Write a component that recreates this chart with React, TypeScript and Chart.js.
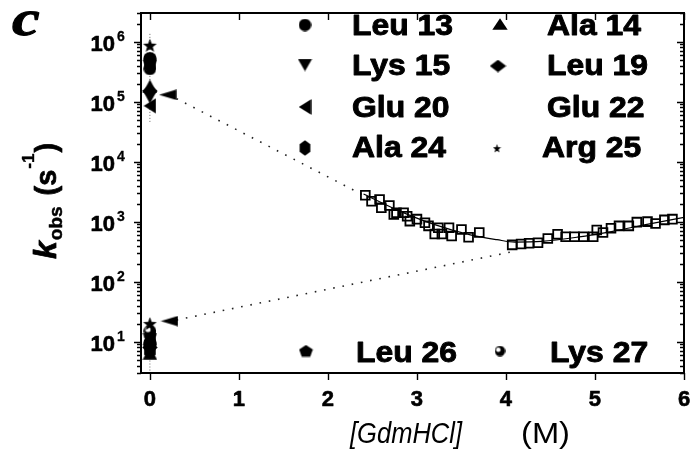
import React, { useEffect, useRef } from "react";
import { Chart, registerables } from "chart.js";

Chart.register(...registerables);

// ---------------- data ----------------
const residues = ["Leu 13", "Ala 14", "Lys 15", "Leu 19", "Glu 20", "Glu 22", "Ala 24", "Arg 25", "Leu 26", "Lys 27"];
const markerKinds = ["circle", "triangle", "down", "diamond", "left", "none", "hexagon", "star", "pentagon", "half"];
// rates at 0 M GdmHCl (s^-1)
const fastRates = [5.2e5, 1.8e5, 1.2e5, 1.5e5, 8.5e4, null, 4.0e5, 8.7e5, 4.6e5, 3.5e5];
const slowRates = [9.5, 6.5, 10.5, 8, 12, null, 7, 20, 8.5, 15];
const fastErr = [4.6e4, 1.4e6];
const slowErr = [3.3, 26];

// open squares (relaxation rate vs [GdmHCl])
const gdmUpper = [2.42, 2.49, 2.58, 2.6, 2.69, 2.74, 2.77, 2.85, 2.89, 2.92, 3.0, 3.09, 3.13, 3.2, 3.24, 3.28, 3.36, 3.39, 3.5, 3.58, 3.7];
const kUpper = [2750, 2190, 2340, 1700, 1860, 1320, 1410, 1410, 1230, 1020, 1100, 955, 850, 620, 790, 620, 790, 575, 740, 550, 660];
const gdmLower = [4.07, 4.17, 4.26, 4.36, 4.47, 4.58, 4.67, 4.77, 4.87, 4.98, 5.02, 5.09, 5.18, 5.27, 5.38, 5.47, 5.59, 5.68, 5.78, 5.87];
const kLower = [410, 425, 435, 445, 525, 615, 560, 560, 560, 560, 725, 660, 775, 850, 850, 980, 1000, 930, 1070, 1100];

// solid fit curve
const fitGdm = [2.4, 2.8, 3.2, 3.6, 3.9, 4.1, 4.4, 4.8, 5.2, 5.6, 6.0];
const fitK = [2880, 1510, 890, 600, 500, 457, 468, 550, 690, 910, 1175];

// dotted extrapolations and their arrowheads
const upperExtrapX = [0.3, 2.4];
const upperExtrapK = [1.12e5, 2750];
const lowerExtrapX = [0.3, 4.05];
const lowerExtrapK = [23, 310];
const arrowX = [0.2, 0.22];
const arrowK = [1.3e5, 22];

// axes
const xTicks = [0, 1, 2, 3, 4, 5, 6];
const yDecadeExp = [1, 2, 3, 4, 5, 6];
const yMinorMult = [2, 3, 4, 5, 6, 7, 8, 9];
const yRange = [3, 3e6];
const xRange = [-0.1, 6];

const SANS = '"Liberation Sans", Arial, sans-serif';

function makeMarker(kind: string, w: number, h: number): HTMLCanvasElement {
  const c = document.createElement("canvas");
  c.width = w;
  c.height = h;
  const g = c.getContext("2d")!;
  g.fillStyle = "#000";
  const cx = w / 2;
  const cy = h / 2;
  const rx = w / 2 - 0.3;
  const ry = h / 2 - 0.3;
  g.beginPath();
  if (kind === "circle" || kind === "half") {
    g.ellipse(cx, cy, rx, ry, 0, 0, Math.PI * 2);
  } else if (kind === "triangle") {
    g.moveTo(cx, 0.3);
    g.lineTo(w - 0.3, h - 0.3);
    g.lineTo(0.3, h - 0.3);
  } else if (kind === "down") {
    g.moveTo(0.3, 0.3);
    g.lineTo(w - 0.3, 0.3);
    g.lineTo(cx, h - 0.3);
  } else if (kind === "left" || kind === "arrow") {
    g.moveTo(0.3, cy);
    g.lineTo(w - 0.3, 0.3);
    g.lineTo(w - 0.3, h - 0.3);
  } else if (kind === "diamond") {
    g.moveTo(cx, 0.3);
    g.lineTo(w - 0.3, cy);
    g.lineTo(cx, h - 0.3);
    g.lineTo(0.3, cy);
  } else if (kind === "hexagon") {
    for (let i = 0; i < 6; i++) {
      const a = -Math.PI / 2 + (i * Math.PI) / 3;
      const px = cx + rx * Math.cos(a);
      const py = cy + ry * Math.sin(a);
      if (i === 0) g.moveTo(px, py);
      else g.lineTo(px, py);
    }
  } else if (kind === "pentagon") {
    for (let i = 0; i < 5; i++) {
      const a = -Math.PI / 2 + (i * 2 * Math.PI) / 5;
      const px = cx + rx * Math.cos(a);
      const py = cy + 0.5 + ry * Math.sin(a) * 1.05;
      if (i === 0) g.moveTo(px, py);
      else g.lineTo(px, py);
    }
  } else if (kind === "star") {
    for (let i = 0; i < 10; i++) {
      const a = -Math.PI / 2 + (i * Math.PI) / 5;
      const f = i % 2 === 0 ? 1 : 0.42;
      const px = cx + rx * f * Math.cos(a);
      const py = cy + 0.8 + ry * f * Math.sin(a);
      if (i === 0) g.moveTo(px, py);
      else g.lineTo(px, py);
    }
  }
  g.closePath();
  g.fill();
  if (kind === "half") {
    g.fillStyle = "#fff";
    g.beginPath();
    g.arc(cx - w * 0.15, cy - h * 0.12, Math.min(w, h) * 0.2, 0, Math.PI * 2);
    g.fill();
  }
  return c;
}

const dataMarkerSize: Record<string, [number, number]> = {
  circle: [14, 14],
  half: [13, 13],
  triangle: [15, 14],
  down: [15, 14],
  left: [13, 16],
  diamond: [16, 15],
  hexagon: [14, 16],
  pentagon: [15, 14],
  star: [15, 15],
};
const legendMarkerSize: Record<string, [number, number]> = {
  circle: [13, 13],
  half: [11, 11],
  triangle: [16, 12],
  down: [15, 13],
  left: [13, 16],
  diamond: [17, 13],
  hexagon: [13, 16],
  pentagon: [15, 13],
  star: [9, 10],
};

// legend slot layout: [markerX, markerY, textX, baselineY]
const legendSlots: Record<string, [number, number, number, number]> = {
  "Leu 13": [305, 25, 352, 35],
  "Lys 15": [305, 65, 352, 75],
  "Glu 20": [305, 107, 352, 117],
  "Ala 24": [305, 148, 352, 157],
  "Leu 26": [306, 351, 356, 362],
  "Ala 14": [500, 24, 547, 35],
  "Leu 19": [498, 66, 547, 75],
  "Glu 22": [498, 107, 547, 117],
  "Arg 25": [497, 148, 542, 157],
  "Lys 27": [500, 351, 550, 362],
};

export default function App() {
  const ref = useRef<HTMLCanvasElement | null>(null);

  useEffect(() => {
    const canvas = ref.current;
    if (!canvas) return;

    const dataImgs: Record<string, HTMLCanvasElement> = {};
    const legImgs: Record<string, HTMLCanvasElement> = {};
    Object.keys(dataMarkerSize).forEach((k) => {
      dataImgs[k] = makeMarker(k, dataMarkerSize[k][0], dataMarkerSize[k][1]);
      legImgs[k] = makeMarker(k, legendMarkerSize[k][0], legendMarkerSize[k][1]);
    });
    const arrowImg = makeMarker("arrow", 18, 11);

    const datasets: any[] = [];
    residues.forEach((name, i) => {
      const kind = markerKinds[i];
      if (kind === "none" || fastRates[i] == null) return;
      datasets.push({
        label: name,
        data: [
          { x: 0, y: fastRates[i] },
          { x: 0, y: slowRates[i] },
        ],
        pointStyle: dataImgs[kind],
        pointRadius: 7,
        showLine: false,
      });
    });
    datasets.push({
      label: "arrows",
      data: arrowX.map((x, i) => ({ x, y: arrowK[i] })),
      pointStyle: arrowImg,
      pointRadius: 7,
      showLine: false,
    });
    datasets.push({
      label: "squares-upper",
      data: gdmUpper.map((x, i) => ({ x, y: kUpper[i] })),
      pointStyle: "rect",
      pointRadius: 6.2,
      pointBorderWidth: 1.8,
      pointBorderColor: "#000",
      pointBackgroundColor: "rgba(255,255,255,0)",
      showLine: false,
    });
    datasets.push({
      label: "squares-lower",
      data: gdmLower.map((x, i) => ({ x, y: kLower[i] })),
      pointStyle: "rect",
      pointRadius: 6.2,
      pointBorderWidth: 1.8,
      pointBorderColor: "#000",
      pointBackgroundColor: "rgba(255,255,255,0)",
      showLine: false,
    });
    datasets.push({
      label: "fit",
      data: fitGdm.map((x, i) => ({ x, y: fitK[i] })),
      showLine: true,
      borderColor: "#000",
      borderWidth: 1.2,
      pointRadius: 0,
      cubicInterpolationMode: "monotone",
    });
    datasets.push({
      label: "extrap-upper",
      data: upperExtrapX.map((x, i) => ({ x, y: upperExtrapK[i] })),
      showLine: true,
      borderColor: "#222",
      borderWidth: 1.6,
      borderDash: [1.6, 7.8],
      pointRadius: 0,
    });
    datasets.push({
      label: "extrap-lower",
      data: lowerExtrapX.map((x, i) => ({ x, y: lowerExtrapK[i] })),
      showLine: true,
      borderColor: "#222",
      borderWidth: 1.6,
      borderDash: [1.6, 7.8],
      pointRadius: 0,
    });
    datasets.push({
      label: "err-fast",
      data: fastErr.map((y) => ({ x: 0, y })),
      showLine: true,
      borderColor: "#666",
      borderWidth: 1,
      borderDash: [1, 2],
      pointRadius: 0,
    });
    datasets.push({
      label: "err-slow",
      data: slowErr.map((y) => ({ x: 0, y })),
      showLine: true,
      borderColor: "#666",
      borderWidth: 1,
      borderDash: [1, 2],
      pointRadius: 0,
    });

    const decorPlugin = {
      id: "decor",
      afterDraw(chart: any) {
        const ctx: CanvasRenderingContext2D = chart.ctx;
        const a = chart.chartArea;
        const xs = chart.scales.x;
        const ys = chart.scales.y;
        ctx.save();
        ctx.strokeStyle = "#000";
        ctx.fillStyle = "#000";

        // frame
        ctx.lineWidth = 2;
        ctx.strokeRect(a.left, a.top, a.right - a.left, a.bottom - a.top);

        // y ticks (left outward, right inward)
        ctx.lineWidth = 1.4;
        const tickAt = (v: number, major: boolean) => {
          if (v < yRange[0] || v > yRange[1]) return;
          const py = Math.round(ys.getPixelForValue(v)) + 0.5;
          const len = major ? 7 : 4;
          ctx.beginPath();
          ctx.moveTo(a.left - len, py);
          ctx.lineTo(a.left, py);
          ctx.moveTo(a.right, py);
          ctx.lineTo(a.right - len, py);
          ctx.stroke();
        };
        [0].concat(yDecadeExp).forEach((e) => {
          const base = Math.pow(10, e);
          tickAt(base, true);
          yMinorMult.forEach((m) => tickAt(m * base, false));
        });

        // x ticks
        xTicks.forEach((t) => {
          const px = Math.round(xs.getPixelForValue(t)) + 0.5;
          ctx.beginPath();
          ctx.moveTo(px, a.bottom);
          ctx.lineTo(px, a.bottom + 7);
          ctx.moveTo(px, a.top);
          ctx.lineTo(px, a.top + 7);
          ctx.stroke();
        });

        const boldText = (txt: string, x: number, y: number, sw: number) => {
          ctx.fillText(txt, x, y);
          if (sw > 0) {
            ctx.lineWidth = sw;
            ctx.lineJoin = "round";
            ctx.strokeText(txt, x, y);
          }
        };

        // x tick labels
        ctx.font = `bold 22px ${SANS}`;
        ctx.textAlign = "center";
        ctx.textBaseline = "alphabetic";
        xTicks.forEach((t) => {
          const px = xs.getPixelForValue(t);
          boldText(String(t), px, 406, 0.6);
        });

        // y tick labels 10^n
        yDecadeExp.forEach((e) => {
          const py = ys.getPixelForValue(Math.pow(10, e));
          ctx.font = `bold 22px ${SANS}`;
          ctx.textAlign = "right";
          boldText("10", 115, py + 9, 0.6);
          ctx.font = `bold 14px ${SANS}`;
          ctx.textAlign = "left";
          boldText(String(e), 117, py - 1, 0.3);
        });

        // x axis title
        const drawFit = (txt: string, font: string, x: number, y: number, w: number) => {
          ctx.font = font;
          const nat = ctx.measureText(txt).width;
          ctx.save();
          ctx.translate(x, y);
          ctx.scale(w / nat, 1);
          ctx.textAlign = "left";
          ctx.fillText(txt, 0, 0);
          ctx.restore();
        };
        drawFit("[GdmHCl]", `italic 29px ${SANS}`, 350, 443, 112);
        drawFit("(M)", `29px ${SANS}`, 521, 443, 49);

        // y axis title: k_obs (s^-1)
        ctx.save();
        ctx.translate(56, 259);
        ctx.rotate(-Math.PI / 2);
        ctx.textAlign = "left";
        let u = 0;
        ctx.font = `italic bold 32px ${SANS}`;
        boldText("k", u, 0, 0.8);
        u += ctx.measureText("k").width + 1;
        ctx.font = `bold 19px ${SANS}`;
        boldText("obs", u, 6, 0.5);
        u += ctx.measureText("obs").width + 11;
        ctx.font = `bold 29px ${SANS}`;
        boldText("(s", u, 0, 0.7);
        u += ctx.measureText("(s").width + 1;
        ctx.font = `bold 17px ${SANS}`;
        boldText("-1", u, -22, 0.4);
        u += ctx.measureText("-1").width + 1;
        ctx.font = `bold 29px ${SANS}`;
        boldText(")", u, 0, 0.7);
        ctx.restore();

        // panel letter
        ctx.save();
        ctx.font = `italic bold 50px "Liberation Serif", "Times New Roman", serif`;
        ctx.textAlign = "left";
        ctx.translate(12, 35);
        ctx.scale(1.25, 1);
        boldText("c", 0, 0, 1);
        ctx.restore();

        // legend
        residues.forEach((name, i) => {
          const slot = legendSlots[name];
          const kind = markerKinds[i];
          if (kind !== "none") {
            const img = legImgs[kind];
            ctx.drawImage(img, slot[0] - img.width / 2, slot[1] - img.height / 2);
          }
          ctx.font = `bold 29px ${SANS}`;
          ctx.save();
          ctx.translate(slot[2], slot[3]);
          ctx.scale(1.1, 1);
          ctx.textAlign = "left";
          boldText(name, 0, 0, 0.9);
          ctx.restore();
        });

        ctx.restore();
      },
    };

    const chart = new Chart(canvas, {
      type: "scatter",
      data: { datasets },
      options: {
        responsive: false,
        animation: false,
        events: [],
        layout: { padding: { top: 13, right: 5, left: 0, bottom: 0 } },
        plugins: { legend: { display: false }, tooltip: { enabled: false } },
        scales: {
          x: {
            type: "linear",
            min: xRange[0],
            max: xRange[1],
            grid: { display: false },
            border: { display: false },
            ticks: { display: false },
            afterFit: (s: any) => {
              s.height = 81;
            },
          },
          y: {
            type: "logarithmic",
            min: yRange[0],
            max: yRange[1],
            grid: { display: false },
            border: { display: false },
            ticks: { display: false },
            afterFit: (s: any) => {
              s.width = 141;
            },
          },
        },
      } as any,
      plugins: [decorPlugin],
    });

    return () => chart.destroy();
  }, []);

  return (
    <div style={{ position: "absolute", left: 0, top: 0, width: 692, height: 454, background: "#fff" }}>
      <canvas ref={ref} width={692} height={454} style={{ display: "block" }} />
    </div>
  );
}
